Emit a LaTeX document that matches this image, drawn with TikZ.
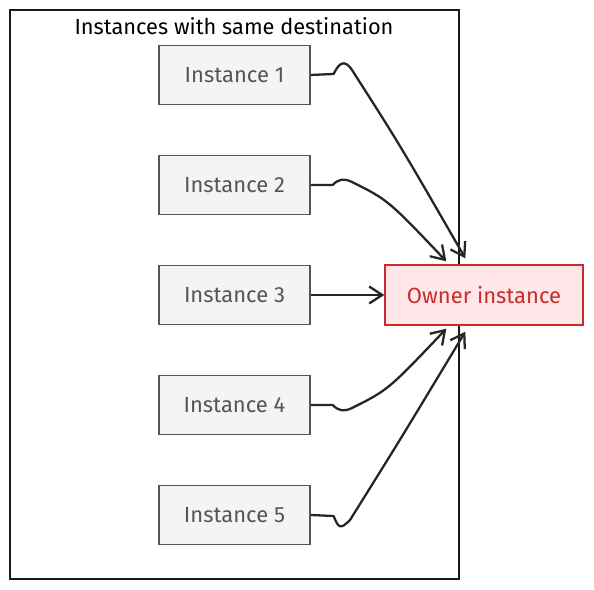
\documentclass[tikz,border=0pt]{standalone}
\usepackage{fontspec}
\setmainfont{Fira Sans}
\usepackage{tikz}
\usetikzlibrary{arrows.meta, calc}
\usepackage{xcolor}
\definecolor{instfill}{HTML}{F4F4F4}
\definecolor{instline}{HTML}{555555}
\definecolor{ownfill}{HTML}{FFE6E8}
\definecolor{ownline}{HTML}{C92A2A}

\begin{document}
\begin{tikzpicture}[x=0.02cm, y=-0.02cm,
    inst/.style={draw=instline, line width=0.7pt, fill=instfill, text=instline,
        minimum width=3.02cm, minimum height=1.18cm, font=\fontsize{12.5}{14}\selectfont},
    owner/.style={draw=ownline, line width=0.8pt, fill=ownfill, text=ownline,
        minimum width=3.96cm, minimum height=1.2cm, font=\fontsize{12.5}{14}\selectfont},
    arr/.style={line width=1.3pt, draw=black!85, -{Straight Barb[length=2.6mm, width=3.4mm]}}]
    \useasboundingbox (0,0) rectangle (594,590);
    \draw[line width=1.1pt, black!90] (10,10) rectangle (459,579);
    \node[font=\fontsize{12.4}{14}\selectfont] (title) at (234,26) {Instances with same destination};
    \foreach \n/\y in {1/75,2/185,3/295,4/405,5/515} {
        \node[inst] (i\n) at (234.5,\y) {Instance \n};
    }
    \node[owner] (own) at (484,295) {Owner instance};
    % arrow ends at the owner box
    \coordinate (t1) at ($(own.north west)+(81,-6)$);
    \coordinate (t2) at ($(own.north west)+(62,-3)$);
    \coordinate (t4) at ($(own.south west)+(62,3)$);
    \coordinate (t5) at ($(own.south west)+(81,6)$);
    \draw[arr] (i1.east) -- ++(23,-1) .. controls ++(5,-10) and (344,58) .. (352,70) .. controls (400,145) .. (t1);
    \draw[arr] (i2.east) -- ++(22,0) .. controls ++(6,-6) and (344,178) .. (352,182) .. controls (388,200) .. (t2);
    \draw[arr] (i3.east) -- (own.west);
    \draw[arr] (i4.east) -- ++(22,0) .. controls ++(6,6) and (344,412) .. (352,408) .. controls (388,390) .. (t4);
    \draw[arr] (i5.east) -- ++(23,1) .. controls ++(5,12) and (340,530) .. (350,520) .. controls (400,440) .. (t5);
\end{tikzpicture}
\end{document}
